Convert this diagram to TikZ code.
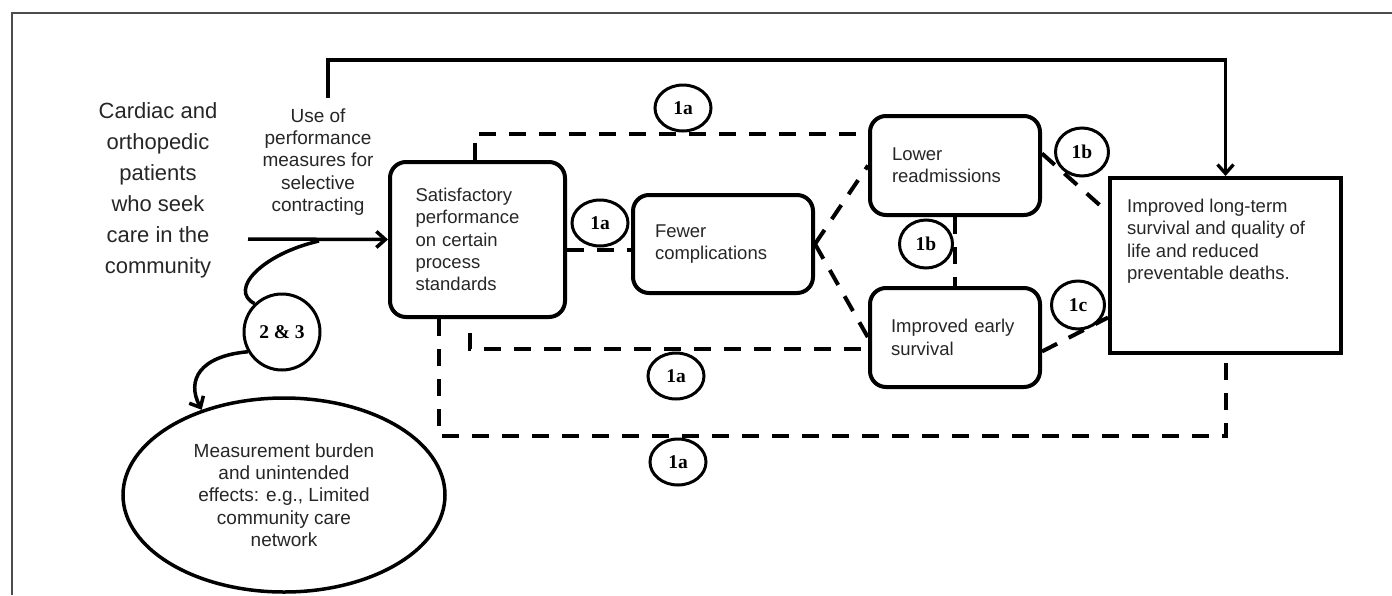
\documentclass[tikz,border=0pt]{standalone}
\usepackage{fontspec}
\setmainfont{Liberation Sans}
\newfontfamily\lserif{Liberation Serif}
\usetikzlibrary{arrows.meta,shapes.geometric,calc}
\begin{document}
\begin{tikzpicture}[x=1pt,y=-1pt,
  txt/.style={font=\fontsize{18.5}{22.3}\selectfont, text=black!85, inner sep=0pt},
  rbox/.style={draw, line width=4pt, rounded corners=16pt, inner sep=0pt, font=\fontsize{18.5}{22.3}\selectfont, text=black!85, align=left},
  lab/.style={draw, ellipse, line width=3pt, minimum width=56pt, minimum height=46pt, inner sep=0pt, font=\lserif\bfseries\fontsize{19.5}{19.5}\selectfont},
  dl/.style={line width=4pt, dash pattern=on 17pt off 13pt},
  arr/.style={line width=3.5pt, -{Straight Barb[length=9pt,width=16pt]}},
]
\useasboundingbox (0,0) rectangle (1392,595);
% frame
\draw[black!70, line width=1.2pt] (12,595) -- (12,13) -- (1392,13);

% text nodes
\node[txt, font=\fontsize{22}{31}\selectfont, align=center] (pat) at (158,190)
  {Cardiac and\\orthopedic\\patients\\who seek\\care in the\\community};
\node[txt, font=\fontsize{19}{22.3}\selectfont, align=center] (use) at (318,162)
  {Use of\\performance\\measures for\\selective\\contracting};

% boxes
\node[rbox, minimum width=175pt, minimum height=155pt, text width=124pt] (sat) at (477.5,239.5)
  {Satisfactory\\performance\\on certain\\process\\standards};
\node[rbox, minimum width=180pt, minimum height=98pt, text width=136pt] (few) at (723,244)
  {Fewer\\complications};
\node[rbox, minimum width=170pt, minimum height=99pt, text width=126pt] (low) at (955,165.5)
  {Lower\\readmissions};
\node[rbox, minimum width=170pt, minimum height=99pt, text width=128pt] (early) at (955,337.5)
  {Improved early\\survival};
\node[draw, line width=4pt, minimum width=231pt, minimum height=175pt] (lt) at (1225.5,265.5) {};
\node[txt, align=left, anchor=north west] (ltt) at (1127,199)
  {Improved long-term\\survival and quality of\\life and reduced\\preventable deaths.};

\node[draw, ellipse, line width=3.5pt, minimum width=322pt, minimum height=194pt, inner sep=0pt,
  font=\fontsize{19}{22.3}\selectfont, text=black!85, align=center] (ell) at (284,495)
  {Measurement burden\\and unintended\\effects: e.g., Limited\\community care\\network};

% label circles
\node[lab, circle, minimum size=76pt] (c23) at (282,332) {2 \& 3};
\node[lab] (a1) at (683,108) {1a};
\node[lab] (a2) at (600,223) {1a};
\node[lab] (a3) at (676,376) {1a};
\node[lab] (a4) at (678,462) {1a};
\node[lab, minimum width=53pt, minimum height=48pt] (b1) at (1082,152) {1b};
\node[lab, minimum width=53pt, minimum height=48pt] (b2) at (926,244) {1b};
\node[lab, minimum width=53pt, minimum height=48pt] (c1) at (1078,305) {1c};

% solid arrows
\coordinate (tS) at (328,98);
\coordinate (tC) at (1225.5,60);
\draw[line width=3.3pt, -{Straight Barb[length=9pt,width=16pt]}] (tS) |- (tC) -- (lt.north);
\coordinate (mS) at (248,239);
\draw[arr] (mS) -- (sat.west);
\coordinate (cS) at (319,241);
\draw[line width=3.5pt] (cS) .. controls (262,254) and (228,290) .. (c23.134);
\draw[arr] (c23.210) .. controls (200,356) and (186,380) .. (ell.134);

% dashed connectors
\coordinate (tA) at (475,134);
\draw[dl] (sat.north -| tA) -- (tA) -- (tA -| low.west);
\coordinate (sf) at (0,250);
\draw[dl] (sat.east |- sf) -- (few.west |- sf);
\draw[dl] (few.east) -- (low.west);
\draw[dl] (few.east) -- (early.west);
\draw[dl] (low.south) -- (early.north);
\draw[dl] ($(low.east)+(0,-12)$) -- ($(lt.west)+(0,-53)$);
\draw[dl] ($(early.east)+(0,14)$) -- ($(lt.west)+(0,52)$);
\coordinate (bA) at (470,333);
\coordinate (bA2) at (470,349);
\draw[dl] (bA) -- (bA2) -- (bA2 -| early.west);
\coordinate (bB) at (439,436);
\draw[dl] (sat.south -| bB) -- (bB) -- (bB -| lt.south) -- ($(lt.south)+(0,7)$);
\end{tikzpicture}
\end{document}
